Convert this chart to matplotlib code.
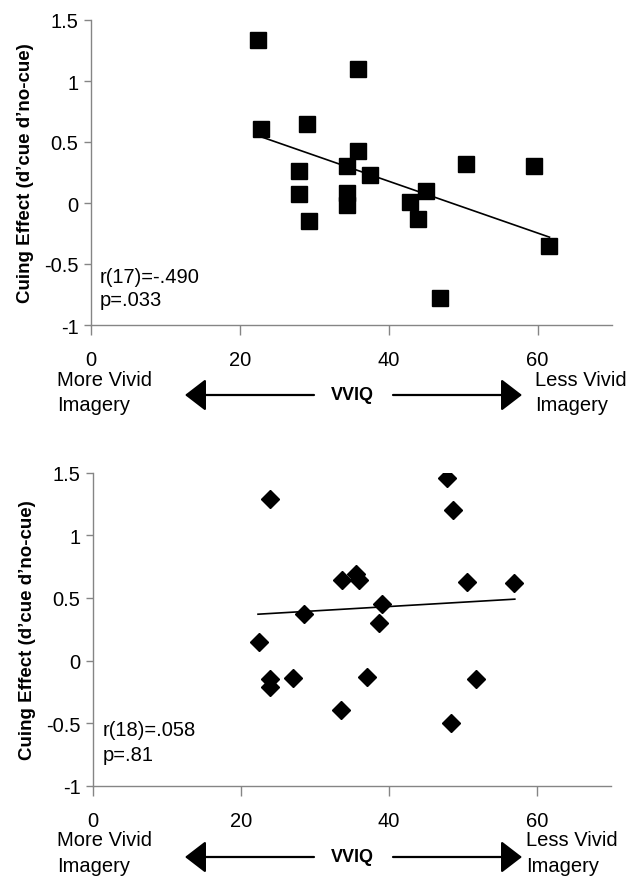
import numpy as np
import matplotlib
matplotlib.use("Agg")
import matplotlib.pyplot as plt
from matplotlib.patches import FancyArrowPatch

plt.rcParams['font.family'] = ['Liberation Sans', 'DejaVu Sans']

# top panel: r(17) = -.490
top_x = [22.5, 35.9, 22.9, 29.0, 35.9, 34.4, 37.5, 27.9, 27.9, 34.4,
         34.4, 29.3, 50.4, 59.5, 45.0, 42.9, 43.9, 61.5, 46.9]
top_y = [1.34, 1.10, 0.61, 0.65, 0.43, 0.30, 0.23, 0.26, 0.07, 0.08,
         -0.02, -0.15, 0.32, 0.30, 0.10, 0.01, -0.13, -0.35, -0.78]
top_trend_x = [22.5, 61.6]
top_trend_y = [0.55, -0.28]

# bottom panel: r(18) = .058
bot_x = [23.9, 33.6, 35.5, 36.0, 39.0, 38.6, 28.5, 22.4, 47.9, 48.7,
         50.6, 56.9, 51.8, 48.4, 23.9, 23.9, 27.0, 37.0, 33.5]
bot_y = [1.29, 0.64, 0.69, 0.64, 0.45, 0.30, 0.37, 0.15, 1.46, 1.20,
         0.63, 0.62, -0.15, -0.50, -0.15, -0.21, -0.14, -0.13, -0.39]
bot_trend_x = [22.3, 57.0]
bot_trend_y = [0.37, 0.49]

x_ticks = [0, 20, 40, 60]
y_ticks = [-1, -0.5, 0, 0.5, 1, 1.5]
y_tick_labels = ['-1', '-0.5', '0', '0.5', '1', '1.5']
stats_top = ['r(17)=-.490', 'p=.033']
stats_bot = ['r(18)=.058', 'p=.81']

W, H = 635, 879
fig = plt.figure(figsize=(W / 100, H / 100), dpi=100)


def px_box(left, right, top, bottom):
    return [left / W, 1 - bottom / H, (right - left) / W, (bottom - top) / H]


def style_axes(ax):
    ax.set_xlim(0, 70)
    ax.set_ylim(-1, 1.5)
    for s in ['top', 'right']:
        ax.spines[s].set_visible(False)
    for s in ['left', 'bottom']:
        ax.spines[s].set_color('#858585')
        ax.spines[s].set_linewidth(1.0)
    ax.set_xticks(x_ticks)
    ax.set_yticks(y_ticks)
    ax.set_yticklabels(y_tick_labels)
    ax.tick_params(axis='x', length=7, width=1, color='#858585', pad=11, labelsize=14.5)
    ax.tick_params(axis='y', length=5, width=1, color='#858585', pad=4, labelsize=14.5)
    ax.set_ylabel('Cuing Effect (d’cue d’no-cue)', fontsize=13.5, fontweight='bold', labelpad=7)


def vviq_row(y_lab1, y_lab2, y_arrow, x_less):
    fig.text(57 / W, 1 - y_lab1 / H, 'More Vivid', fontsize=14.5, va='center', ha='left')
    fig.text(57 / W, 1 - y_lab2 / H, 'Imagery', fontsize=14.5, va='center', ha='left')
    fig.text(x_less / W, 1 - y_lab1 / H, 'Less Vivid', fontsize=14.5, va='center', ha='left')
    fig.text(x_less / W, 1 - y_lab2 / H, 'Imagery', fontsize=14.5, va='center', ha='left')
    fig.text(352 / W, 1 - y_arrow / H, 'VVIQ', fontsize=13, fontweight='bold',
             va='center', ha='center')
    ya = 1 - y_arrow / H
    style = '-|>,head_length=0.65,head_width=0.5'
    for start, tip in [(314, 185), (393, 522)]:
        fig.add_artist(FancyArrowPatch(
            (start / W, ya), (tip / W, ya), transform=fig.transFigure,
            arrowstyle=style, lw=1.6, color='black',
            shrinkA=0, shrinkB=0, mutation_scale=20))


ax1 = fig.add_axes(px_box(91, 612, 21, 326))
ax1.plot(top_trend_x, top_trend_y, color='black', lw=1.2, zorder=2)
ax1.plot(top_x, top_y, linestyle='none', marker='s', markersize=11.5,
         color='black', zorder=3)
style_axes(ax1)
ax1.text(1.2, -0.60, stats_top[0], fontsize=14.5, va='center')
ax1.text(1.2, -0.79, stats_top[1], fontsize=14.5, va='center')
vviq_row(381, 406, 396, 535)

ax2 = fig.add_axes(px_box(93, 611, 473.5, 787))
ax2.plot(bot_trend_x, bot_trend_y, color='black', lw=1.2, zorder=2)
ax2.plot(bot_x, bot_y, linestyle='none', marker='D', markersize=9,
         color='black', zorder=3)
style_axes(ax2)
ax2.text(1.3, -0.55, stats_bot[0], fontsize=14.5, va='center')
ax2.text(1.3, -0.75, stats_bot[1], fontsize=14.5, va='center')
vviq_row(841, 867, 858, 526)

fig.savefig('out.png', dpi=100)
